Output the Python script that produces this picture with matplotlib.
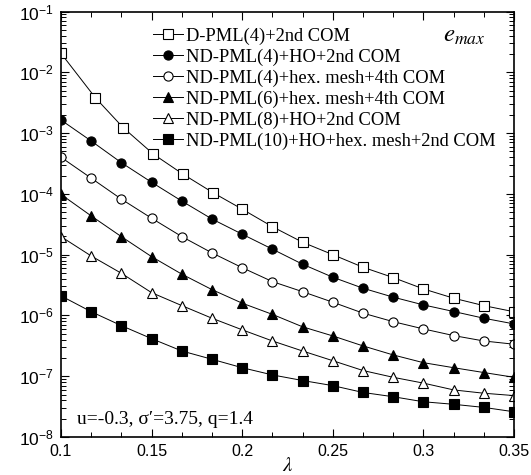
import matplotlib
matplotlib.use("Agg")
import matplotlib.pyplot as plt
from matplotlib.ticker import FixedLocator, FixedFormatter, NullFormatter

plt.rcParams['font.family'] = ['Liberation Sans', 'DejaVu Sans']
plt.rcParams['mathtext.fontset'] = 'stix'

lam = [0.1, 0.1167, 0.1333, 0.15, 0.1667, 0.1833, 0.2, 0.2167, 0.2333, 0.25,
       0.2667, 0.2833, 0.3, 0.3167, 0.3333, 0.35]
lam_dpml = [0.1, 0.119, 0.1343, 0.151, 0.1672, 0.1838, 0.2, 0.2167, 0.2333, 0.25,
            0.2667, 0.2833, 0.3, 0.3167, 0.3333, 0.35]

dpml4 = [2.05e-2, 3.8e-3, 1.23e-3, 4.5e-4, 2.12e-4, 1.05e-4, 5.6e-5, 2.88e-5, 1.6e-5,
         1.0e-5, 6.2e-6, 4.2e-6, 2.73e-6, 1.92e-6, 1.45e-6, 1.15e-6]
ndpml4_ho = [1.64e-3, 7.4e-4, 3.26e-4, 1.55e-4, 7.6e-5, 3.86e-5, 2.17e-5, 1.23e-5, 6.96e-6,
             4.25e-6, 2.8e-6, 2.0e-6, 1.49e-6, 1.16e-6, 9.0e-7, 7.25e-7]
ndpml4_hex = [4.0e-4, 1.81e-4, 8.2e-5, 3.97e-5, 1.98e-5, 1.07e-5, 6.1e-6, 3.6e-6, 2.46e-6,
              1.65e-6, 1.09e-6, 7.9e-7, 6.0e-7, 4.66e-7, 3.8e-7, 3.36e-7]
ndpml6_hex = [9.8e-5, 4.33e-5, 1.98e-5, 9.27e-6, 4.77e-6, 2.66e-6, 1.59e-6, 1.04e-6, 6.5e-7,
              4.6e-7, 3.15e-7, 2.24e-7, 1.67e-7, 1.38e-7, 1.15e-7, 9.6e-8]
ndpml8_ho = [1.98e-5, 9.5e-6, 4.94e-6, 2.37e-6, 1.45e-6, 9.0e-7, 5.8e-7, 3.8e-7, 2.6e-7,
             1.8e-7, 1.24e-7, 9.6e-8, 7.7e-8, 5.95e-8, 5.25e-8, 4.8e-8]
ndpml10 = [2.1e-6, 1.15e-6, 6.8e-7, 4.15e-7, 2.6e-7, 1.9e-7, 1.38e-7, 1.05e-7, 8.5e-8,
           7.0e-8, 5.4e-8, 4.6e-8, 3.8e-8, 3.45e-8, 3.07e-8, 2.6e-8]

labels = ["D-PML(4)+2nd COM",
          "ND-PML(4)+HO+2nd COM",
          "ND-PML(4)+hex. mesh+4th COM",
          "ND-PML(6)+hex. mesh+4th COM",
          "ND-PML(8)+HO+2nd COM",
          "ND-PML(10)+HO+hex. mesh+2nd COM"]

xticks = [0.1, 0.15, 0.2, 0.25, 0.3, 0.35]
xticklabels = ["0.1", "0.15", "0.2", "0.25", "0.3", "0.35"]
xminor = [0.1167, 0.1333, 0.1667, 0.1833, 0.2167, 0.2333, 0.2667, 0.2833, 0.3167, 0.3333]
yexps = [-8, -7, -6, -5, -4, -3, -2, -1]
yticks = [10.0 ** e for e in yexps]
yticklabels = [r'$\mathdefault{10^{%d}}$' % e for e in yexps]
yminor = [m * 10.0 ** e for e in yexps[:-1] for m in range(2, 10)]

fig = plt.figure(figsize=(5.31, 4.75), dpi=100)
ax = fig.add_axes([61/531, 1-437/475, (514-61)/531, (437-11.5)/475])

lw = 0.7
series = [
    (lam_dpml, dpml4, 's', 'white', 7.0),
    (lam, ndpml4_ho, 'o', 'black', 6.6),
    (lam, ndpml4_hex, 'o', 'white', 6.6),
    (lam, ndpml6_hex, '^', 'black', 7.4),
    (lam, ndpml8_ho, '^', 'white', 7.4),
    (lam, ndpml10, 's', 'black', 6.8),
]
for (x, y, m, fc, ms), lab in zip(series, labels):
    ax.plot(x, y, '-', color='black', lw=lw, marker=m, markerfacecolor=fc,
            markeredgecolor='black', markeredgewidth=0.8, markersize=ms, label=lab)

ax.set_yscale('log')
ax.set_xlim(0.1, 0.35)
ax.set_ylim(1e-8, 1e-1)
ax.xaxis.set_major_locator(FixedLocator(xticks))
ax.xaxis.set_major_formatter(FixedFormatter(xticklabels))
ax.xaxis.set_minor_locator(FixedLocator(xminor))
ax.yaxis.set_major_locator(FixedLocator(yticks))
ax.yaxis.set_major_formatter(FixedFormatter(yticklabels))
ax.yaxis.set_minor_locator(FixedLocator(yminor))
ax.yaxis.set_minor_formatter(NullFormatter())

ax.tick_params(which='both', direction='in', top=True, right=True, colors='black')
ax.tick_params(axis='x', which='major', labelsize=11.5)
ax.tick_params(axis='y', which='major', labelsize=12.5)
ax.tick_params(which='major', length=6, width=0.8, pad=5)
ax.tick_params(which='minor', length=3.5, width=0.7)
for s in ax.spines.values():
    s.set_linewidth(1.2)

ax.set_xlabel(r'$\lambda$', fontsize=15, labelpad=-2)

leg = ax.legend(loc='upper left', bbox_to_anchor=((153-61)/453, 0.962), frameon=False,
                prop={'family': 'Liberation Serif', 'size': 13.3}, handlelength=1.6,
                handletextpad=0.2, labelspacing=0.2, borderpad=0, borderaxespad=0)

ax.text(0.844, 0.93, r'$e_{max}$', transform=ax.transAxes, fontsize=18, ha='left', va='baseline')
ax.text(0.036, 0.03, 'u=-0.3, σ′=3.75, q=1.4', transform=ax.transAxes,
        family=['Liberation Serif', 'DejaVu Serif'], fontsize=14, ha='left', va='baseline')

fig.savefig('out.png', dpi=100)
